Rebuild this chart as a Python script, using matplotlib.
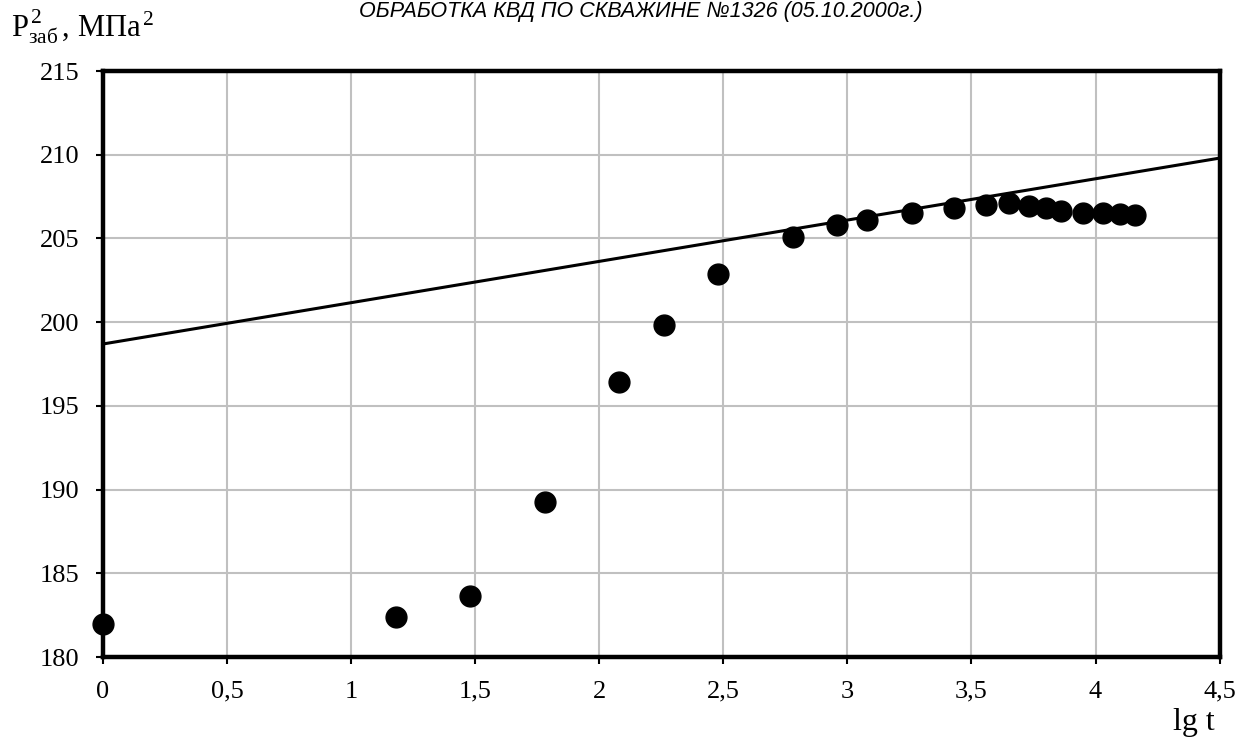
import numpy as np
import matplotlib
matplotlib.use('Agg')
import matplotlib.pyplot as plt

# точки КВД: lg t и P заб^2
lg_t = [0.0, 1.18, 1.48, 1.78, 2.08, 2.26, 2.48, 2.78, 2.96, 3.08, 3.26,
        3.43, 3.56, 3.65, 3.73, 3.80, 3.86, 3.95, 4.03, 4.10, 4.16]
p_sq = [181.95, 182.4, 183.65, 189.25, 196.4, 199.85, 202.9, 205.1, 205.82, 206.1, 206.5,
        206.8, 207.0, 207.12, 206.94, 206.8, 206.66, 206.54, 206.5, 206.45, 206.38]

# аппроксимирующая прямая
fit_x = [0.0, 4.5]
fit_y = [198.7, 209.8]

x_ticks = [0, 0.5, 1, 1.5, 2, 2.5, 3, 3.5, 4, 4.5]
x_tick_labels = ['0', '0,5', '1', '1,5', '2', '2,5', '3', '3,5', '4', '4,5']
y_ticks = [180, 185, 190, 195, 200, 205, 210, 215]

plt.rcParams['mathtext.fontset'] = 'custom'
plt.rcParams['mathtext.rm'] = 'Liberation Serif'
plt.rcParams['mathtext.it'] = 'Liberation Serif:italic'

fig = plt.figure(figsize=(12.56, 7.4), dpi=100)
ax = fig.add_axes([0.082, 0.112, 0.889, 0.792])

ax.plot(fit_x, fit_y, color='black', lw=2.2, zorder=3, clip_on=False)
ax.plot(lg_t, p_sq, 'o', color='black', markersize=15, zorder=4, clip_on=False)

ax.set_xlim(0, 4.5)
ax.set_ylim(180, 215)
ax.set_xticks(x_ticks)
ax.set_xticklabels(x_tick_labels)
ax.set_yticks(y_ticks)
ax.grid(True, color='#c0c0c0', lw=1.5, zorder=0)
ax.set_axisbelow(True)

for s in ax.spines.values():
    s.set_linewidth(3.2)
    s.set_color('black')

ax.tick_params(direction='out', length=5, width=1.5, color='black', pad=12)
for lbl in ax.get_xticklabels() + ax.get_yticklabels():
    lbl.set_fontfamily('Liberation Serif')
    lbl.set_fontsize(19)

fig.text(0.967, 0.0135, 'lg t', family='Liberation Serif', fontsize=23,
         ha='right', va='baseline')
fig.text(0.009, 0.95, r'$\mathrm{P}^{\,2}_{\mathrm{заб}}\mathrm{\,,\,МПа}^{\,2}$',
         fontsize=22, ha='left', va='baseline')
fig.text(0.51, 0.977, 'ОБРАБОТКА КВД ПО СКВАЖИНЕ №1326 (05.10.2000г.)',
         family='Liberation Sans', style='italic', fontsize=15.5,
         ha='center', va='baseline')

fig.savefig('out.png', dpi=100)
